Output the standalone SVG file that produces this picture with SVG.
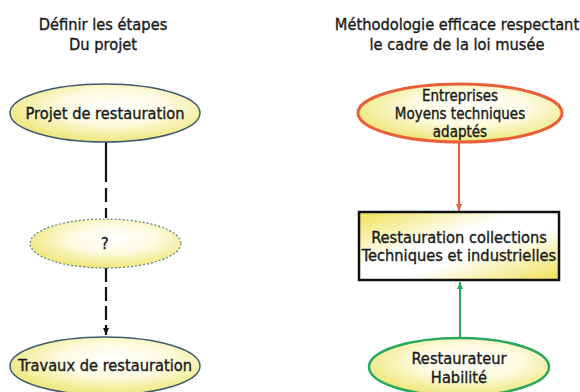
<svg xmlns="http://www.w3.org/2000/svg" width="580" height="392" viewBox="0 0 580 392">
<style>
text{font-family:"Comic Sans MS","DejaVu Sans Condensed","Liberation Sans",sans-serif;font-size:16.3px;fill:#1a1a1a;stroke:#1a1a1a;stroke-width:0.35;text-anchor:middle}
.s{font-size:15px}
</style>
<defs>
<radialGradient id="yg" cx="0.55" cy="0.4" r="0.65">
<stop offset="0" stop-color="#ffffff"/><stop offset="0.45" stop-color="#fdfbe0"/><stop offset="1" stop-color="#ece36a"/>
</radialGradient>
<linearGradient id="rg" x1="0" y1="0" x2="1" y2="1">
<stop offset="0" stop-color="#efe055"/><stop offset="0.4" stop-color="#ffffff"/><stop offset="0.6" stop-color="#ffffff"/><stop offset="1" stop-color="#efe055"/>
</linearGradient>
<marker id="ab" markerWidth="8" markerHeight="8" refX="7" refY="4" orient="auto" markerUnits="userSpaceOnUse"><path d="M0,1 L7,4 L0,7 z" fill="#111"/></marker>
<marker id="ar" markerWidth="8" markerHeight="8" refX="7" refY="4" orient="auto" markerUnits="userSpaceOnUse"><path d="M0,1 L7,4 L0,7 z" fill="#e8603a"/></marker>
<marker id="ag" markerWidth="8" markerHeight="8" refX="7" refY="4" orient="auto" markerUnits="userSpaceOnUse"><path d="M0,1 L7,4 L0,7 z" fill="#2aa860"/></marker>
</defs>
<rect width="580" height="392" fill="#fff"/>
<g id="title-left"><text x="103" y="30">Définir les étapes</text><text x="103" y="50">Du projet</text></g>
<g id="title-right"><text x="457" y="30">Méthodologie efficace respectant</text><text x="457" y="50">le cadre de la loi musée</text></g>
<g id="connectors">
<line x1="106" y1="142" x2="106" y2="218" stroke="#111" stroke-width="2.2" stroke-dasharray="40 6 14 6 14 6"/>
<line x1="106" y1="268" x2="106" y2="335" stroke="#111" stroke-width="2.2" stroke-dasharray="14 5" marker-end="url(#ab)"/>
<line x1="459" y1="143" x2="459" y2="211" stroke="#e8603a" stroke-width="2" marker-end="url(#ar)"/>
<line x1="460" y1="338" x2="460" y2="282" stroke="#2aa860" stroke-width="2" marker-end="url(#ag)"/>
</g>
<g id="n-projet"><ellipse cx="105" cy="113" rx="95" ry="29" fill="url(#yg)" stroke="#3d5a6e" stroke-width="1.5"/><text x="105" y="119">Projet de restauration</text></g>
<g id="n-q"><ellipse cx="105.5" cy="243.5" rx="75.5" ry="24.5" fill="url(#yg)" stroke="#5a7c90" stroke-width="1.2" stroke-dasharray="2 2"/><text x="105" y="249">?</text></g>
<g id="n-travaux"><ellipse cx="105" cy="366" rx="95" ry="29" fill="url(#yg)" stroke="#3d5a6e" stroke-width="1.5"/><text x="105" y="371">Travaux de restauration</text></g>
<g id="n-entreprises"><ellipse cx="460" cy="113" rx="102" ry="29" fill="url(#yg)" stroke="#e8603a" stroke-width="3"/><text class="s" x="460" y="101">Entreprises</text><text class="s" x="460" y="119">Moyens techniques</text><text class="s" x="460" y="137">adaptés</text></g>
<g id="n-rest"><rect x="359" y="212" width="200" height="68" fill="url(#rg)" stroke="#111" stroke-width="2.5"/><text x="459" y="243">Restauration collections</text><text x="459" y="261">Techniques et industrielles</text></g>
<g id="n-restaurateur"><ellipse cx="459" cy="367" rx="90" ry="29" fill="url(#yg)" stroke="#2aa860" stroke-width="2.5"/><text x="459" y="364">Restaurateur</text><text x="459" y="383">Habilité</text></g>
</svg>
